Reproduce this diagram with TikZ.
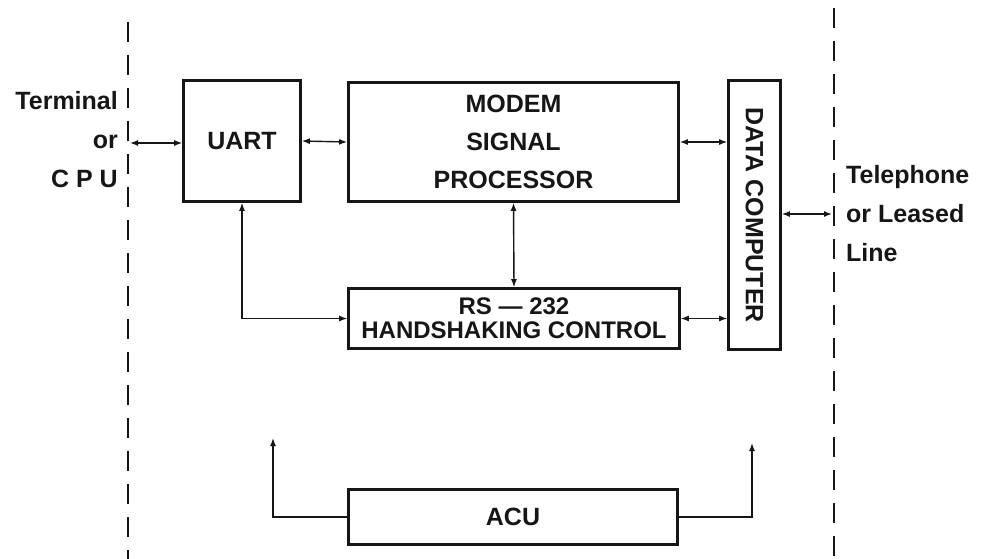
\documentclass[tikz,border=0pt]{standalone}
\usepackage{fontspec}
\setsansfont{Liberation Sans}
\usetikzlibrary{arrows.meta}
\definecolor{inkcol}{RGB}{22, 22, 22}
\tikzset{
  blk/.style   = {draw=inkcol, line width=2.6pt, align=center, text=inkcol,
                  inner sep=0pt, font=\sffamily\bfseries\fontsize{25}{38}\selectfont},
  side/.style  = {text=inkcol, inner sep=0pt,
                  font=\sffamily\bfseries\fontsize{25}{39}\selectfont},
  flow/.style  = {-{Latex[length=8pt, width=6pt]}, draw=inkcol, line width=1.4pt},
  bus/.style   = {{Latex[length=8pt, width=6pt]}-{Latex[length=8pt, width=6pt]},
                  draw=inkcol, line width=1.4pt},
  % the two dashed lines mark where the modem ends on either side
  border/.style = {draw=inkcol, line width=2pt, dash pattern=on 20pt off 13pt},
}

\begin{document}
\begin{tikzpicture}[x=1pt, y=-1pt]
  \useasboundingbox (0,0) rectangle (990,559);

  %% ---------------- the two borders ----------------
  \draw[border] (128,22) -- (128,559);
  \draw[border] (834,8) -- (834,559);
  \coordinate (termport) at (130,143);
  \coordinate (lineport) at (832,214);

  %% ---------------- outside texts ----------------
  \node[side, align=right, anchor=east] (term) at (118,140)
       {Terminal\\or\\C P U};
  \node[side, align=left, anchor=west] (phone) at (846,214)
       {Telephone\\or Leased\\Line};

  %% ---------------- blocks ----------------
  \node[blk, minimum width=117pt, minimum height=121pt] (uart) at (242,141)
       {UART};
  \node[blk, minimum width=330pt, minimum height=119pt] (msp) at (513.5,142)
       {MODEM\\SIGNAL\\PROCESSOR};
  \node[blk, minimum width=52pt, minimum height=269pt] (dc) at (754.5,215)
       {\rotatebox{-90}{DATA COMPUTER}};
  \node[blk, minimum width=331pt, minimum height=60pt,
        font=\sffamily\bfseries\fontsize{24}{24}\selectfont] (rs) at (514,318.5)
       {RS --- 232\\HANDSHAKING CONTROL};
  \node[blk, minimum width=329pt, minimum height=55pt] (acu) at (513,517)
       {ACU};
  \coordinate (aculeft) at (273,438);
  \coordinate (acuright) at (752,443);

  %% ---------------- connections ----------------
  \draw[bus] (termport) -- (termport -| uart.west);
  \draw[bus] (uart.east) -- (msp.west);
  \draw[bus] (msp.east) -- (msp.east -| dc.west);
  \draw[bus] (dc.east |- lineport) -- (lineport);
  \draw[bus] (msp.south) -- (rs.north);
  \draw[bus] (uart.south) |- (rs.west);
  \draw[bus] (rs.east) -- (rs.east -| dc.west);
  \draw[flow] (acu.west) -| (aculeft);
  \draw[flow] (acu.east) -| (acuright);

\end{tikzpicture}
\end{document}
